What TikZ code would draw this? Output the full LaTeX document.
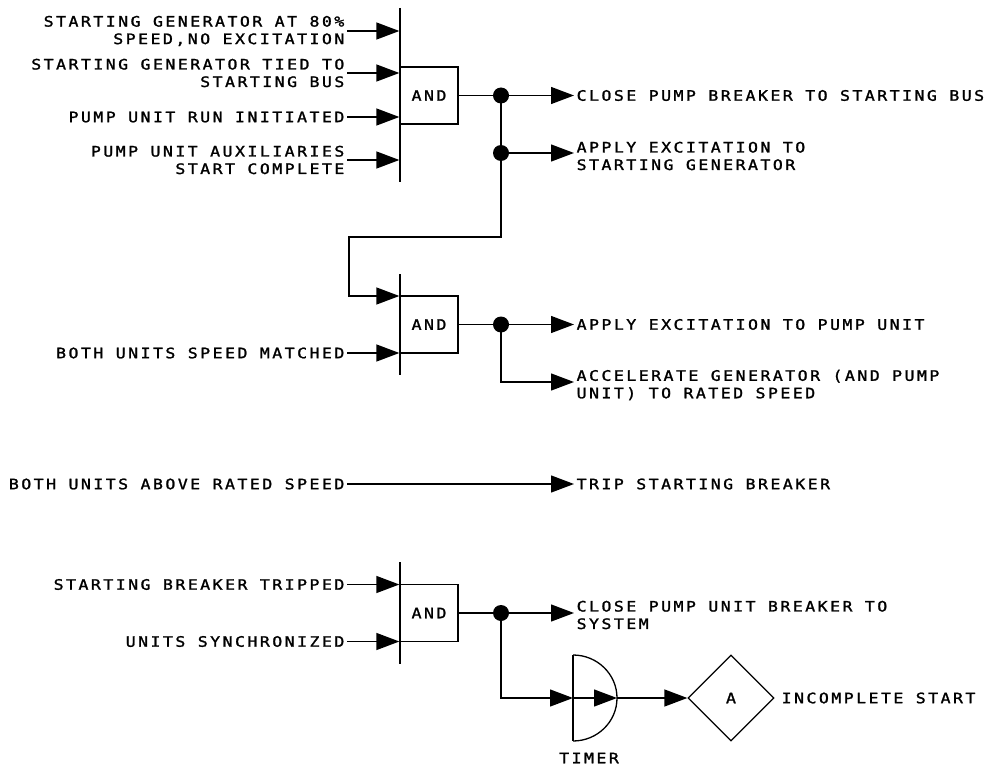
\documentclass[tikz,border=0pt]{standalone}
\usepackage{fontspec}
\newfontfamily\rotfont{DejaVu Sans Mono}[LetterSpace=17, FakeStretch=1.15, FakeBold=1.5]
\usetikzlibrary{arrows.meta}
\usetikzlibrary{shapes.geometric}
\usetikzlibrary{positioning}
\tikzset{
  caixa/.style={draw, minimum width=58pt, minimum height=57pt, inner sep=0pt, font=\rotfont\fontsize{14.4}{17.5}\selectfont},
  rotulo/.style={inner sep=2pt, align=#1, font=\rotfont\fontsize{14.4}{17.5}\selectfont},
  rotulo/.default=left,
  ponto/.style={circle, fill, inner sep=0pt, minimum width=15pt, minimum height=16pt},
  seta/.style={-{Triangle[length=23pt, width=17pt]}},
}

\begin{document}
\begin{tikzpicture}[x=1pt, y=1pt, line width=1.3pt]
  \useasboundingbox (0,0) rectangle (991,-765);
  % porta 1
  \node[caixa] (and1) at (429,-95.5) {AND};
  \draw (400,-8) -- (400,-182);
  \node[rotulo=right, anchor=east] (e1a) at (347,-31) {STARTING GENERATOR AT 80\%\\SPEED,NO EXCITATION};
  \node[rotulo=right, anchor=east] (e1b) at (347,-73) {STARTING GENERATOR TIED TO\\STARTING BUS};
  \node[rotulo=right, anchor=east] (e1c) at (347,-117) {PUMP UNIT RUN INITIATED};
  \node[rotulo=right, anchor=east] (e1d) at (347,-160) {PUMP UNIT AUXILIARIES\\START COMPLETE};
  \foreach \e in {e1a,e1b,e1c,e1d}
    \draw[seta] (\e.east) -- (and1.west |- \e.east);
  \node[ponto] (d1) at (501,-95.5) {};
  \node[ponto] (d2) at (501,-153) {};
  \node[rotulo, anchor=west] (s1a) at (574,-95.5) {CLOSE PUMP BREAKER TO STARTING BUS};
  \node[rotulo, anchor=west] (s1b) at (574,-156) {APPLY EXCITATION TO\\STARTING GENERATOR};
  \draw (and1.east) -- (d1.center) -- (d2.center);
  \draw[seta] (d1.center) -- (s1a.west);
  \draw[seta] (d2.center) -- (d2.center -| s1b.west);
  % porta 2
  \node[caixa] (and2) at (429,-324.5) {AND};
  \draw (400,-274) -- (400,-375);
  \draw[seta] (d2.center) -- (501,-237) -- (349,-237) |- (and2.west |- 0,-296);
  \node[rotulo=right, anchor=east] (e2b) at (347,-353) {BOTH UNITS SPEED MATCHED};
  \draw[seta] (e2b.east) -- (and2.west |- e2b.east);
  \node[ponto] (d3) at (501,-324.5) {};
  \node[rotulo, anchor=west] (s2a) at (574,-324.5) {APPLY EXCITATION TO PUMP UNIT};
  \node[rotulo, anchor=west] (s2b) at (574,-385) {ACCELERATE GENERATOR (AND PUMP\\UNIT) TO RATED SPEED};
  \draw (and2.east) -- (d3.center);
  \draw[seta] (d3.center) -- (s2a.west);
  \draw[seta] (d3.center) |- (574,-382);
  % linha direta
  \node[rotulo=right, anchor=east] (e3) at (347,-484) {BOTH UNITS ABOVE RATED SPEED};
  \node[rotulo, anchor=west] (s3) at (574,-484) {TRIP STARTING BREAKER};
  \draw[seta] (e3.east) -- (s3.west);
  % porta 3
  \node[caixa] (and3) at (429,-613) {AND};
  \draw (400,-562) -- (400,-664);
  \node[rotulo=right, anchor=east] (e4a) at (347,-584.5) {STARTING BREAKER TRIPPED};
  \node[rotulo=right, anchor=east] (e4b) at (347,-641.5) {UNITS SYNCHRONIZED};
  \draw[seta] (e4a.east) -- (and3.west |- e4a.east);
  \draw[seta] (e4b.east) -- (and3.west |- e4b.east);
  \node[ponto] (d4) at (501,-613) {};
  \node[rotulo, anchor=west] (s4) at (574,-615) {CLOSE PUMP UNIT BREAKER TO\\SYSTEM};
  \draw (and3.east) -- (d4.center);
  \draw[seta] (d4.center) -- (d4.center -| s4.west);
  % temporizador
  \coordinate (tm) at (573,-698);
  \coordinate (tmr) at (617,-698);
  \draw (573,-655) -- (573,-741);
  \draw (573,-655) arc[start angle=90, end angle=-90, x radius=44pt, y radius=43pt];
  \node[rotulo] (ttm) at (589,-758) {TIMER};
  \node[draw, diamond, minimum width=86pt, minimum height=86pt, inner sep=0pt, font=\rotfont\fontsize{14.4}{17.5}\selectfont] (da) at (731,-698) {A};
  \node[rotulo, anchor=west] (s5) at (779,-698) {INCOMPLETE START};
  \draw[seta] (d4.center) |- (tm);
  \draw[seta] (tm) -- (tmr);
  \draw[seta] (tmr) -- (da.west);
\end{tikzpicture}
\end{document}
